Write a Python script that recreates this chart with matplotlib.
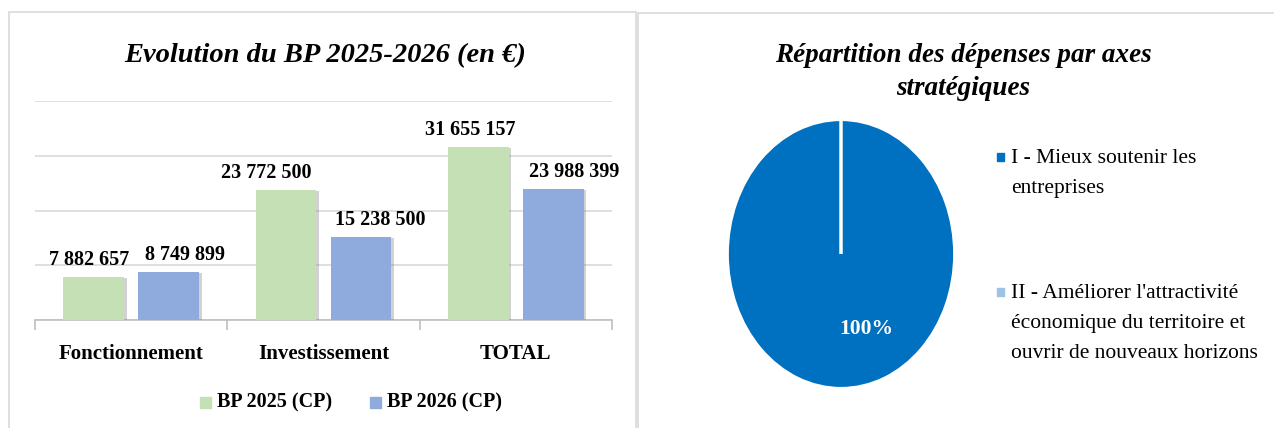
import matplotlib.pyplot as plt
import matplotlib.patheffects as pe
from matplotlib.patches import Rectangle
import numpy as np

plt.rcParams['font.family'] = ['Liberation Serif', 'DejaVu Serif']

# Données
categories = ['Fonctionnement', 'Investissement', 'TOTAL']
bp_2025 = [7882657, 23772500, 31655157]
bp_2026 = [8749899, 15238500, 23988399]
series_labels = ['BP 2025 (CP)', 'BP 2026 (CP)']

axes_labels = ['I - Mieux soutenir les\nentreprises',
               "II - Améliorer l'attractivité\néconomique du territoire et\nouvrir de nouveaux horizons"]
axes_values = [100, 0]

vert = '#C5E0B4'
bleu = '#8FAADC'
bleu_fonce = '#0070C0'
bleu_clair = '#9DC3E6'
gris = '#D9D9D9'

W, H = 1274, 428
fig = plt.figure(figsize=(W / 100, H / 100), dpi=100)

def rect(x0, y0, x1, y1):
    # pixels (origine en haut à gauche) -> coordonnées figure
    return [x0 / W, 1 - y1 / H, (x1 - x0) / W, (y1 - y0) / H]

# cadres des deux graphiques
fig.patches.append(Rectangle((9 / W, -0.1), 627 / W, 1 - 12 / H + 0.1,
                             transform=fig.transFigure, fill=False, ec=gris, lw=1.2))
fig.patches.append(Rectangle((638 / W, -0.1), 640 / W, 1 - 13 / H + 0.1,
                             transform=fig.transFigure, fill=False, ec=gris, lw=1.2))

# ---- Graphique en barres ----
ax = fig.add_axes(rect(35, 101, 612, 320))
x = np.arange(len(categories))
w = 0.315
ombre = [pe.SimplePatchShadow(offset=(2, -1), shadow_rgbFace='#7F7F7F', alpha=0.35), pe.Normal()]
b1 = ax.bar(x - 0.195, bp_2025, w, color=vert, zorder=3, path_effects=ombre)
b2 = ax.bar(x + 0.195, bp_2026, w, color=bleu, zorder=3, path_effects=ombre)

dx = [-3, 12, -14, 14, -6, 15]
i = 0
for k in range(len(categories)):
    for bars in (b1, b2):
        r = bars[k]
        v = int(r.get_height())
        ax.annotate(f"{v:,}".replace(",", " "), (r.get_x() + r.get_width() / 2, v),
                    xytext=(dx[i], 5), textcoords='offset points', ha='center', va='bottom',
                    fontsize=14.5, fontweight='bold')
        i += 1

ax.set_xlim(-0.5, 2.5)
ax.set_ylim(0, 40000000)
ax.set_yticks(np.arange(0, 40000001, 10000000))
ax.yaxis.grid(True, color=gris, lw=1.2)
ax.set_axisbelow(True)
ax.tick_params(axis='y', left=False, labelleft=False)
ax.set_xticks(x)
ax.set_xticklabels(categories, fontsize=15, fontweight='bold')
ax.tick_params(axis='x', length=0, pad=17)
ax.set_xticks([-0.5, 0.5, 1.5, 2.5], minor=True)
ax.tick_params(axis='x', which='minor', length=7, color='#BFBFBF', width=1.2)
for s in ['top', 'right', 'left']:
    ax.spines[s].set_visible(False)
ax.spines['bottom'].set_color('#BFBFBF')
ax.spines['bottom'].set_linewidth(1.2)

fig.text(325 / W, 1 - 56 / H, 'Evolution du BP 2025-2026 (en €)', ha='center', va='center',
         fontsize=20.5, fontweight='bold', style='italic')

# légende du graphique en barres
for j, (lab, c) in enumerate(zip(series_labels, [vert, bleu])):
    x0 = 200 + j * 170
    fig.patches.append(Rectangle((x0 / W, 1 - 408 / H), 11 / W, 11 / H,
                                 transform=fig.transFigure, color=c))
    fig.text((x0 + 17) / W, 1 - 402 / H, lab, ha='left', va='center',
             fontsize=14.5, fontweight='bold')

# ---- Graphique en secteurs ----
ax2 = fig.add_axes(rect(726, 118, 956, 390))
ax2.pie(axes_values, colors=[bleu_fonce, bleu_clair], startangle=90, counterclock=False,
        wedgeprops=dict(edgecolor='white', linewidth=2.5))
ax2.set_aspect('auto')
ax2.set_xlim(-1.01, 1.01)
ax2.set_ylim(-1.01, 1.01)
pct = axes_values[0] / sum(axes_values) * 100
ax2.text(0.22, -0.56, f"{pct:.0f}%", ha='center', va='center', color='white',
         fontsize=15.5, fontweight='bold')

fig.text(963 / W, 1 - 72 / H, 'Répartition des dépenses par axes\nstratégiques', ha='center',
         va='center', fontsize=19.5, fontweight='bold', style='italic', linespacing=1.4)

for j, (lab, c) in enumerate(zip(axes_labels, [bleu_fonce, bleu_clair])):
    y0 = 157 + j * 135
    fig.patches.append(Rectangle((997 / W, 1 - (y0 + 4) / H), 7 / W, 8 / H,
                                 transform=fig.transFigure, color=c))
    fig.text(1011 / W, 1 - (y0 - 8) / H, lab, ha='left', va='top', fontsize=15.5,
             linespacing=1.8)

fig.savefig('out.png', dpi=100)
